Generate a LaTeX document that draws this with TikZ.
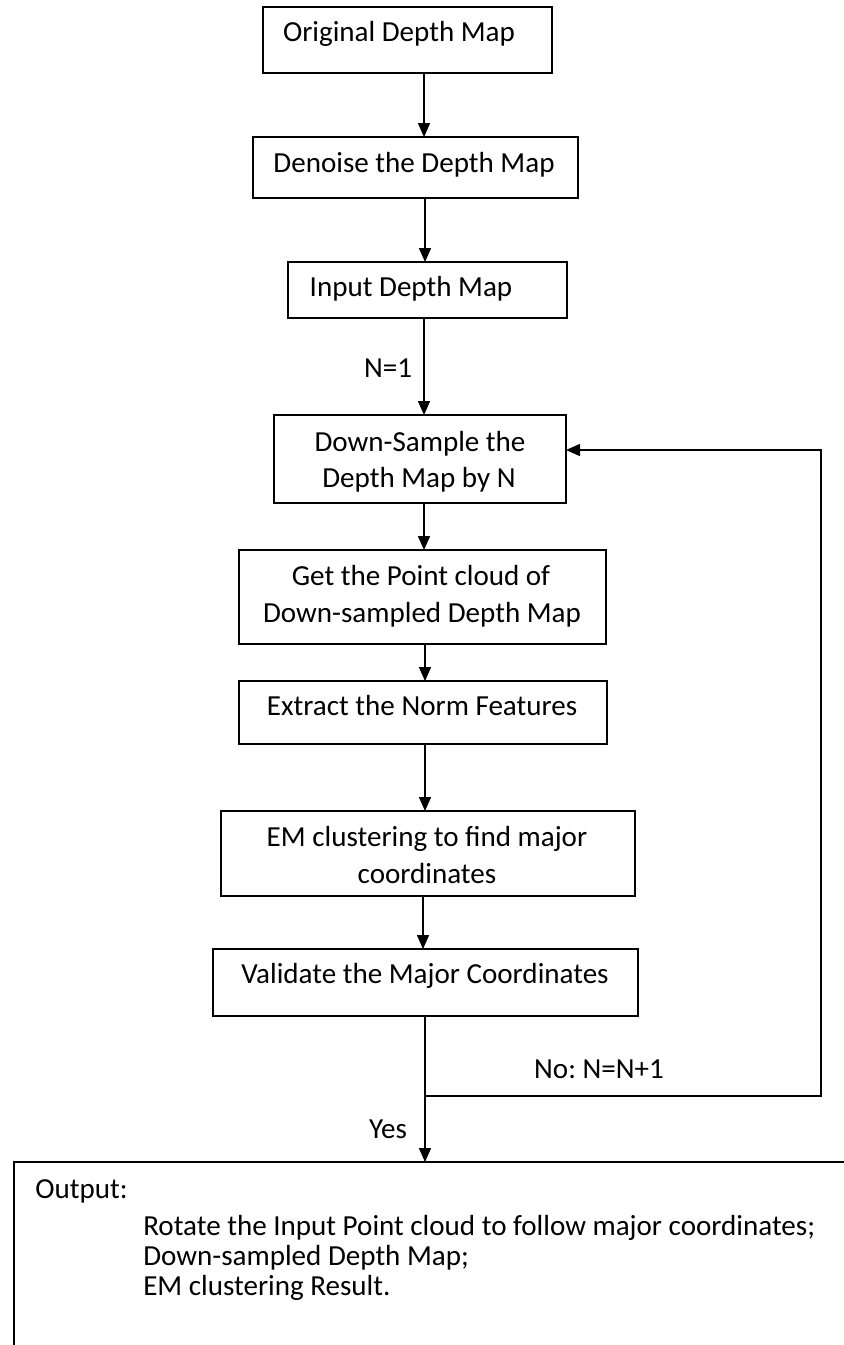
\documentclass[tikz,border=0pt]{standalone}
\usepackage{fontspec}
\setmainfont{Carlito}
\usetikzlibrary{arrows.meta,fit}
\frenchspacing
\begin{document}
\begin{tikzpicture}[x=0.75pt,y=-0.75pt,
  box/.style={draw, line width=1.1pt, rectangle, inner sep=0pt, outer sep=0pt},
  txt/.style={anchor=base, inner sep=0pt, font=\fontsize{21.8}{26}\selectfont},
  ltxt/.style={txt, anchor=base west},
  flow/.style={draw, line width=1.1pt, -{Triangle[length=10.5pt,width=9pt]}},
  link/.style={draw, line width=1.1pt}]
\useasboundingbox (0,0) rectangle (843,1345);

% process boxes
\node[box, fit={(263,7) (552,73)}]    (b1) {};
\node[box, fit={(253,137) (578,198)}] (b2) {};
\node[box, fit={(288,262) (567,318)}] (b3) {};
\node[box, fit={(274,415) (566,503)}] (b4) {};
\node[box, fit={(239,550) (606,644)}] (b5) {};
\node[box, fit={(239,681) (607,744)}] (b6) {};
\node[box, fit={(221,811) (635,896)}] (b7) {};
\node[box, fit={(213,949) (638,1016)}] (b8) {};
\node[box, fit={(14,1162) (870,1400)}] (out) {};

% box texts
\node[txt] (t1)  at (399,42)  {Original Depth Map};
\node[txt] (t2)  at (414,172) {Denoise the Depth Map};
\node[txt] (t3)  at (411,296) {Input Depth Map};
\node[txt] (t4a) at (420,451) {Down-Sample the};
\node[txt] (t4b) at (419,487) {Depth Map by N};
\node[txt] (t5a) at (421,585) {Get the Point cloud of};
\node[txt] (t5b) at (422,622) {Down-sampled Depth Map};
\node[txt] (t6)  at (422,715) {Extract the Norm Features};
\node[txt] (t7a) at (427,846) {EM clustering to find major};
\node[txt] (t7b) at (427,883) {coordinates};
\node[txt] (t8)  at (425,983) {Validate the Major Coordinates};

% output text
\node[ltxt] (o0) at (35,1198)  {Output:};
\node[ltxt] (o1) at (143,1235) {Rotate the Input Point cloud to follow major coordinates;};
\node[ltxt] (o2) at (143,1265) {Down-sampled Depth Map;};
\node[ltxt] (o3) at (143,1295) {EM clustering Result.};

% connector columns and loop corners
\coordinate (ca) at (424,0);
\coordinate (cb) at (425,0);
\coordinate (cc) at (423,0);
\coordinate (jn) at (425,1096);
\coordinate (fbr) at (821,450);

\draw[flow] (b1.south -| ca) -- (b2.north -| ca);
\draw[flow] (b2.south -| cb) -- (b3.north -| cb);
\draw[flow] (b3.south -| ca) -- (b4.north -| ca);
\draw[flow] (b4.south -| ca) -- (b5.north -| ca);
\draw[flow] (b5.south -| cb) -- (b6.north -| cb);
\draw[flow] (b6.south -| cb) -- (b7.north -| cb);
\draw[flow] (b7.south -| cc) -- (b8.north -| cc);
\draw[flow] (b8.south -| cb) -- (out.north -| cb);
\draw[flow] (jn) -| (fbr) -- (b4.east |- fbr);

% connector labels
\node[txt] (lN)   at (388,377)  {N=1};
\node[txt] (lNo)  at (599,1078) {No: N=N+1};
\node[txt] (lYes) at (388,1138) {Yes};
\end{tikzpicture}
\end{document}
